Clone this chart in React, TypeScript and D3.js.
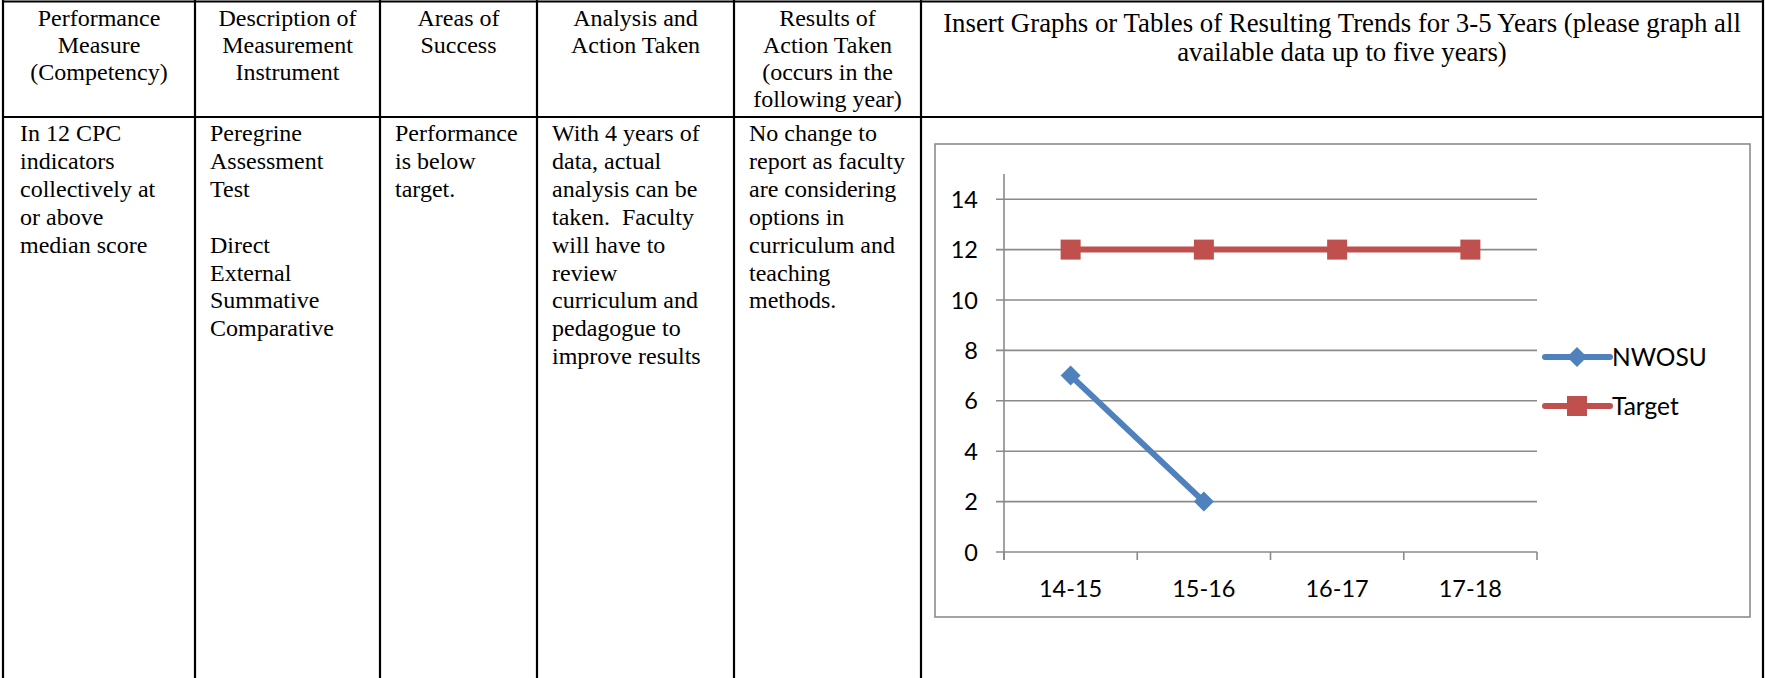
import React, { useEffect } from "react";
import * as d3 from "d3";

// ---- data ----
const categories = ["14-15", "15-16", "16-17", "17-18"];
const nwosuValues: (number | null)[] = [7, 2, null, null];
const targetValues: (number | null)[] = [12, 12, 12, 12];
const yTicks = [0, 2, 4, 6, 8, 10, 12, 14];
const seriesNames = ["NWOSU", "Target"];

const headerCells = [
  ["Performance", "Measure", "(Competency)"],
  ["Description of", "Measurement", "Instrument"],
  ["Areas of", "Success"],
  ["Analysis and", "Action Taken"],
  ["Results of", "Action Taken", "(occurs in the", "following year)"],
];
const titleLines = [
  "Insert Graphs or Tables of Resulting Trends for 3-5 Years (please graph all",
  "available data up to five years)",
];
const bodyCells = [
  ["In 12 CPC", "indicators", "collectively at", "or above", "median score"],
  ["Peregrine", "Assessment", "Test", "", "Direct", "External", "Summative", "Comparative"],
  ["Performance", "is below", "target."],
  ["With 4 years of", "data, actual", "analysis can be", "taken.\u00a0 Faculty", "will have to", "review", "curriculum and", "pedagogue to", "improve results"],
  ["No change to", "report as faculty", "are considering", "options in", "curriculum and", "teaching", "methods."],
];

// ---- layout ----
const W = 1765;
const H = 678;
const colX = [3, 195, 380, 537, 734, 921, 1763];
const headerBottom = 117;
const serif = "'Liberation Serif', 'Times New Roman', serif";
const sans = "Lato, 'Open Sans', sans-serif";

const frame = { x0: 935, y0: 144, x1: 1750, y1: 617 };
const plot = { x0: 1004, x1: 1537, yBottom: 552, yTop: 174 };
const BLUE = "#4F81BD";
const RED = "#C0504D";
const GRID = "#8a8a8a";

export default function App() {
  useEffect(() => {
    document.body.style.margin = "0";
    document.body.style.overflow = "hidden";
  }, []);

  const x = d3.scaleBand<string>().domain(categories).range([plot.x0, plot.x1]).padding(0);
  const y = d3.scaleLinear().domain([0, 15]).range([plot.yBottom, plot.yTop]);
  const cx = (c: string) => (x(c) as number) + x.bandwidth() / 2;

  const lineGen = d3
    .line<{ c: string; v: number | null }>()
    .defined((d) => d.v != null)
    .x((d) => cx(d.c))
    .y((d) => y(d.v as number));

  const nwosu = categories.map((c, i) => ({ c, v: nwosuValues[i] }));
  const target = categories.map((c, i) => ({ c, v: targetValues[i] }));

  const diamond = (px: number, py: number, r: number) =>
    `M${px},${py - r}L${px + r},${py}L${px},${py + r}L${px - r},${py}Z`;
  const SQ = 20;
  const DR = 10;

  const tickBounds = categories.map((c) => x(c) as number).concat([plot.x1]);

  const legendY = [357, 406];
  const legendX0 = 1545;
  const legendX1 = 1610;
  const legendMX = 1577;

  return (
    <svg
      width={W}
      height={H}
      viewBox={`0 0 ${W} ${H}`}
      style={{ position: "absolute", left: 0, top: 0, background: "#fff" }}
    >
      <rect x={0} y={0} width={W} height={H} fill="#fff" />

      {/* table grid */}
      <g stroke="#000" strokeWidth={2.2}>
        <line x1={colX[0]} x2={colX[6]} y1={1.5} y2={1.5} />
        <line x1={colX[0]} x2={colX[6]} y1={headerBottom} y2={headerBottom} />
        {colX.map((cxv, i) => (
          <line key={i} x1={cxv} x2={cxv} y1={0} y2={H} />
        ))}
      </g>

      {/* headers */}
      <g fontFamily={serif} fontSize={24} fill="#000" textAnchor="middle">
        {headerCells.map((lines, i) => (
          <text key={i}>
            {lines.map((ln, j) => (
              <tspan key={j} x={(colX[i] + colX[i + 1]) / 2} y={26 + j * 27}>
                {ln}
              </tspan>
            ))}
          </text>
        ))}
        <text fontSize={26.8}>
          {titleLines.map((ln, j) => (
            <tspan key={j} x={(colX[5] + colX[6]) / 2} y={32 + j * 29.2}>
              {ln}
            </tspan>
          ))}
        </text>
      </g>

      {/* body */}
      <g fontFamily={serif} fontSize={24} fill="#000">
        {bodyCells.map((lines, i) => (
          <text key={i} xmlSpace="preserve" style={{ whiteSpace: "pre" }}>
            {lines.map((ln, j) => (
              <tspan key={j} x={colX[i] + (i === 0 ? 17 : 15)} y={141 + j * 27.9}>
                {ln}
              </tspan>
            ))}
          </text>
        ))}
      </g>

      {/* chart frame */}
      <rect
        x={frame.x0}
        y={frame.y0}
        width={frame.x1 - frame.x0}
        height={frame.y1 - frame.y0}
        fill="#fff"
        stroke="#8c8c8c"
        strokeWidth={1.6}
      />

      {/* gridlines */}
      <g stroke={GRID} strokeWidth={1.6}>
        {yTicks.map((t) => (
          <line key={t} x1={plot.x0 - 8} x2={plot.x1} y1={y(t)} y2={y(t)} />
        ))}
        <line x1={plot.x0} x2={plot.x0} y1={plot.yTop} y2={plot.yBottom + 8} />
        {tickBounds.map((tx, i) => (
          <line key={i} x1={tx} x2={tx} y1={plot.yBottom} y2={plot.yBottom + 8} />
        ))}
      </g>

      {/* y labels */}
      <g fontFamily={sans} fontSize={23.5} fill="#000" textAnchor="end">
        {yTicks.map((t) => (
          <text key={t} x={978} y={y(t) + 8.5}>
            {t}
          </text>
        ))}
      </g>

      {/* x labels */}
      <g fontFamily={sans} fontSize={23.5} fill="#000" textAnchor="middle">
        {categories.map((c) => (
          <text key={c} x={cx(c)} y={597}>
            {c}
          </text>
        ))}
      </g>

      {/* series */}
      <path d={lineGen(target) || ""} fill="none" stroke={RED} strokeWidth={6} />
      {target
        .filter((d) => d.v != null)
        .map((d) => (
          <rect
            key={d.c}
            x={cx(d.c) - SQ / 2}
            y={y(d.v as number) - SQ / 2}
            width={SQ}
            height={SQ}
            fill={RED}
          />
        ))}
      <path d={lineGen(nwosu) || ""} fill="none" stroke={BLUE} strokeWidth={6} />
      {nwosu
        .filter((d) => d.v != null)
        .map((d) => (
          <path key={d.c} d={diamond(cx(d.c), y(d.v as number), DR)} fill={BLUE} />
        ))}

      {/* legend */}
      <g fontFamily={sans} fontSize={24.5} fill="#000">
        {seriesNames.map((name, i) => {
          const col = i === 0 ? BLUE : RED;
          const ly = legendY[i];
          return (
            <g key={name}>
              <line
                x1={legendX0}
                x2={legendX1}
                y1={ly}
                y2={ly}
                stroke={col}
                strokeWidth={6}
                strokeLinecap="round"
              />
              {i === 0 ? (
                <path d={diamond(legendMX, ly, DR)} fill={col} />
              ) : (
                <rect x={legendMX - 10} y={ly - 10} width={20} height={20} fill={col} />
              )}
              <text x={legendX1 + 2} y={ly + 9}>
                {name}
              </text>
            </g>
          );
        })}
      </g>
    </svg>
  );
}
